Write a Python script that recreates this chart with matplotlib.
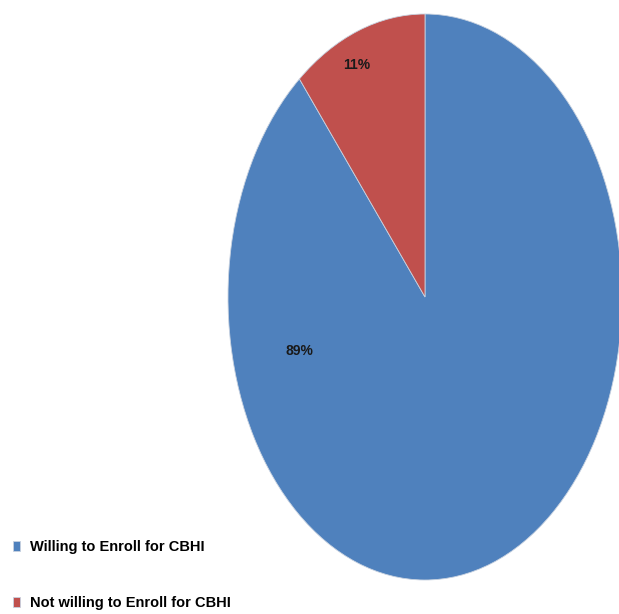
import matplotlib.pyplot as plt
import numpy as np

labels = ['Willing to Enroll for CBHI', 'Not willing to Enroll for CBHI']
sizes = [89, 11]
pct_labels = ['89%', '11%']
colors = ['#4F81BD', '#C0504D']

plt.rcParams['font.family'] = ['Liberation Sans Narrow', 'Liberation Sans', 'DejaVu Sans']

fig = plt.figure(figsize=(6.19, 6.14), dpi=100)
ax = fig.add_axes([228 / 619, 1 - 580 / 614, 394 / 619, 566 / 614])

wedges, _ = ax.pie(sizes, colors=colors, startangle=90, counterclock=False,
                   radius=1, wedgeprops=dict(edgecolor='#c8d2e0', linewidth=0.6))
ax.set_aspect('auto')
ax.set_xlim(-1, 1)
ax.set_ylim(-1, 1)
ax.axis('off')

# percentage labels
ax.text(-0.635, -0.19, pct_labels[0], ha='center', va='center',
        fontsize=10, fontweight='bold', color='#1a1a1a')
ax.text(-0.345, 0.82, pct_labels[1], ha='center', va='center',
        fontsize=10, fontweight='bold', color='#1a1a1a')

fig.legend(wedges, labels, loc='lower left', bbox_to_anchor=(0.012, -0.003),
           frameon=False, handlelength=0.45, handleheight=0.7, handletextpad=0.7,
           labelspacing=2.85, borderaxespad=0,
           prop=dict(size=10.5, weight='bold'))

fig.savefig('out.png', dpi=100)
